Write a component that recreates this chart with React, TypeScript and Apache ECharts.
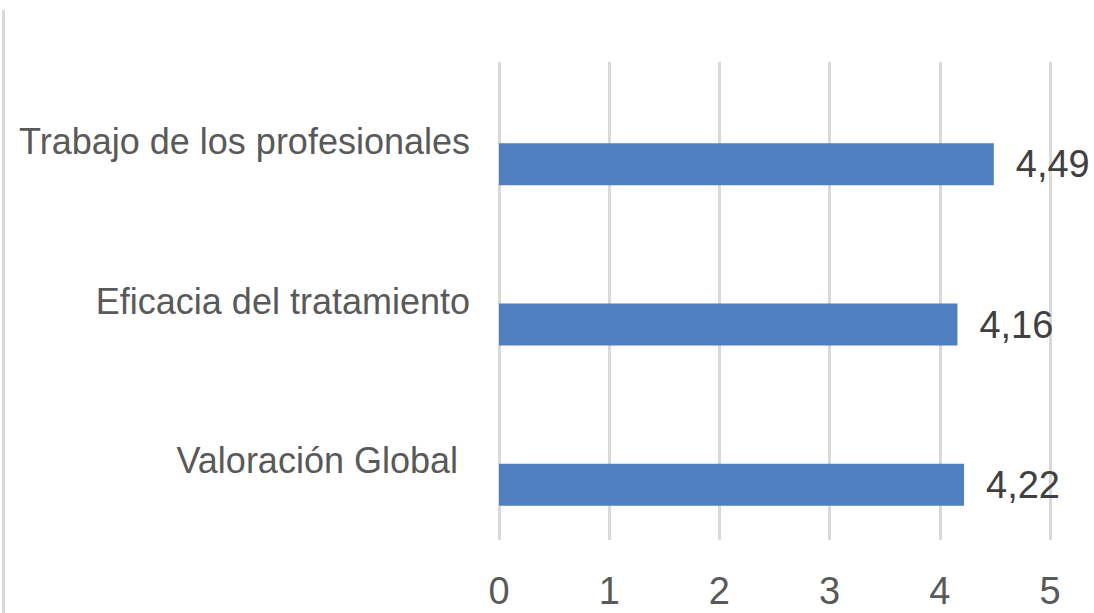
import React, { useEffect, useRef } from "react";
import * as echarts from "echarts";

const categories = ["Valoración Global", "Eficacia del tratamiento", "Trabajo de los profesionales"];
const values = [4.22, 4.16, 4.49];
const xMin = 0;
const xMax = 5;
const xInterval = 1;

const FONT = "'Liberation Sans Narrow', 'Arial Narrow', 'Liberation Sans', Arial, sans-serif";

export default function App() {
  const ref = useRef<HTMLDivElement>(null);
  useEffect(() => {
    if (!ref.current) return;
    const chart = echarts.init(ref.current, null, { renderer: "svg" });
    chart.setOption({
      animation: false,
      backgroundColor: "#ffffff",
      graphic: [
        {
          type: "rect",
          shape: { x: 2, y: 10, width: 3, height: 603 },
          style: { fill: "#d9d9d9" },
          silent: true,
        },
      ],
      grid: [
        { left: 499, right: 44, top: 62, bottom: 73, containLabel: false, outerBoundsMode: "none" },
        { left: 499, right: 44, top: 84, bottom: 48, containLabel: false, outerBoundsMode: "none" },
      ],
      xAxis: [
        {
          type: "value",
          gridIndex: 0,
          min: xMin,
          max: xMax,
          interval: xInterval,
          axisLine: { show: false },
          axisTick: { show: false },
          splitLine: { show: true, lineStyle: { color: "#d9d9d9", width: 3 } },
          axisLabel: {
            margin: 32,
            fontSize: 38,
            fontFamily: FONT,
            color: "#595959",
          },
        },
        {
          type: "value",
          gridIndex: 1,
          min: xMin,
          max: xMax,
          interval: xInterval,
          show: false,
        },
      ],
      yAxis: [
        {
          type: "category",
          gridIndex: 0,
          data: categories.map((c, i) =>
            i === 0 ? { value: c, textStyle: { padding: [0, 12, 0, 0] } } : c
          ),
          axisLine: { show: false },
          axisTick: { show: false },
          axisLabel: {
            margin: 29,
            fontSize: 36,
            fontFamily: FONT,
            color: "#595959",
          },
        },
        {
          type: "category",
          gridIndex: 1,
          data: categories,
          show: false,
        },
      ],
      series: [
        {
          type: "bar",
          xAxisIndex: 1,
          yAxisIndex: 1,
          data: values,
          barWidth: 42,
          itemStyle: { color: "#4f7fbe" },
          label: {
            show: true,
            position: "right",
            distance: 22,
            fontSize: 38,
            fontFamily: FONT,
            color: "#404040",
            formatter: (p: any) => Number(p.value).toFixed(2).replace(".", ","),
          },
        },
      ],
    });
    return () => chart.dispose();
  }, []);
  return (
    <div
      ref={ref}
      style={{ position: "absolute", left: 0, top: 0, width: 1094, height: 613 }}
    />
  );
}
